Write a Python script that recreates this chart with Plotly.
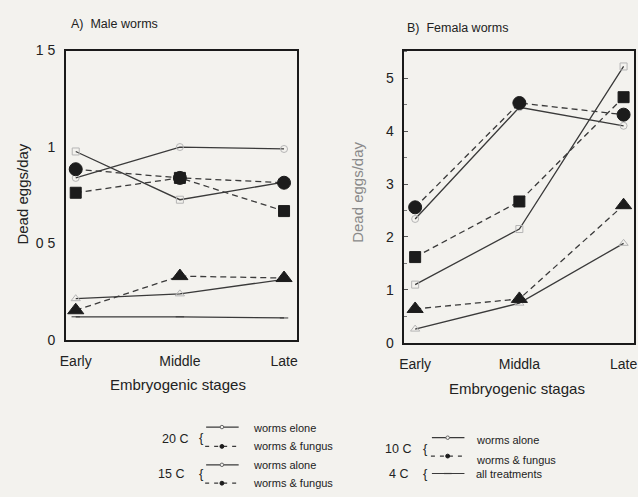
import plotly.graph_objects as go

# ---------------- data ----------------
stages_a = ["Early", "Middle", "Late"]
stages_b = ["Early", "Middla", "Late"]
xpos = [0, 1, 2]

# Panel A: male worms
male_20_alone = [0.84, 1.00, 0.99]
male_20_fungus = [0.885, 0.84, 0.815]
male_15_alone = [0.977, 0.727, 0.818]
male_15_fungus = [0.763, 0.84, 0.668]
male_10_alone = [0.214, 0.239, 0.314]
male_10_fungus = [0.154, 0.331, 0.321]
male_4_all = [0.12, 0.12, 0.114]

# Panel B: female worms
fem_20_alone = [2.34, 4.45, 4.10]
fem_20_fungus = [2.56, 4.53, 4.31]
fem_15_alone = [1.10, 2.15, 5.22]
fem_15_fungus = [1.62, 2.67, 4.64]
fem_10_alone = [0.26, 0.75, 1.88]
fem_10_fungus = [0.64, 0.83, 2.60]

a_ytickvals = [0, 0.5, 1, 1.5]
a_yticktext = ["0", "0 5", "1", "1 5"]
b_ytickvals = [0, 1, 2, 3, 4, 5]

W, H = 638, 497
BG = "#f3f2ee"
LINE = "#3a3a3a"
INK = "#1c1c1c"
OPEN = "#b5b5b5"
FONT = "Liberation Sans, Arial, Helvetica, sans-serif"


def px(x):
    return x / W


def py(y):
    return 1 - y / H


fig = go.Figure()


def add(vals, xa, ya, dash, symbol, mcolor, msize, lw=1.3):
    fig.add_trace(go.Scatter(
        x=xpos, y=vals, xaxis=xa, yaxis=ya, mode="lines+markers",
        line=dict(color=LINE, width=lw, dash=dash),
        marker=dict(symbol=symbol, color=mcolor, size=msize,
                    line=dict(color=mcolor, width=1)),
        showlegend=False, hoverinfo="skip"))


DASH = "6px,4px"
# Panel A
add(male_20_alone, "x", "y", "solid", "circle-open", OPEN, 7)
add(male_15_alone, "x", "y", "solid", "square-open", OPEN, 7)
add(male_10_alone, "x", "y", "solid", "triangle-up-open", OPEN, 8)
add(male_4_all, "x", "y", "solid", "line-ew", LINE, 6)
add(male_20_fungus, "x", "y", DASH, "circle", INK, 13)
add(male_15_fungus, "x", "y", DASH, "square", INK, 11)
add(male_10_fungus, "x", "y", DASH, "triangle-up", INK, 14)
# Panel B
add(fem_20_alone, "x2", "y2", "solid", "circle-open", OPEN, 7)
add(fem_15_alone, "x2", "y2", "solid", "square-open", OPEN, 7)
add(fem_10_alone, "x2", "y2", "solid", "triangle-up-open", OPEN, 8)
add(fem_20_fungus, "x2", "y2", DASH, "circle", INK, 13)
add(fem_15_fungus, "x2", "y2", DASH, "square", INK, 11)
add(fem_10_fungus, "x2", "y2", DASH, "triangle-up", INK, 14)

axis_common = dict(showline=True, mirror=True, linecolor="#1a1a1a", linewidth=1.6,
                   showgrid=False, zeroline=False, fixedrange=True,
                   tickfont=dict(family=FONT, size=14, color="#222"))

fig.update_layout(
    width=W, height=H, margin=dict(l=0, r=0, t=0, b=0),
    paper_bgcolor=BG, plot_bgcolor=BG,
    font=dict(family=FONT, size=12, color="#222"),
    xaxis=dict(domain=[px(60.7), px(294.7)], range=[-0.095, 2.12],
               tickvals=xpos, ticktext=stages_a, ticks="", anchor="y",
               ticklabelstandoff=7, **axis_common),
    yaxis=dict(domain=[py(343), py(44)], range=[0, 1.5],
               tickvals=a_ytickvals, ticktext=a_yticktext, ticks="", anchor="x",
               ticklabelstandoff=6, **axis_common),
    xaxis2=dict(domain=[px(404), px(637)], range=[-0.104, 2.10],
                tickvals=xpos, ticktext=stages_b, ticks="", anchor="y2",
                ticklabelstandoff=8, ticklabeloverflow="allow", **axis_common),
    yaxis2=dict(domain=[py(346), py(44)], range=[0, 5.52],
                tickvals=b_ytickvals, ticks="inside", ticklen=4, tickcolor="#555",
                minor=dict(dtick=0.5, ticks="inside", ticklen=3, tickcolor="#777"),
                anchor="x2", ticklabelstandoff=6, **axis_common),
)

ann = []


def text(x, y, s, size=12, color="#222", xanchor="center", angle=0):
    ann.append(dict(x=px(x), y=py(y), xref="paper", yref="paper", text=s,
                    showarrow=False, xanchor=xanchor, yanchor="middle",
                    textangle=angle, font=dict(family=FONT, size=size, color=color)))


# titles and axis labels
text(64, 17, "A)  Male worms", 12.5, xanchor="left")
text(405, 21, "B)  Femala worms", 12.5, xanchor="left")
text(17, 192, "Dead eggs/day", 15, angle=-90)
text(357, 190, "Dead eggs/day", 15, color="#8a8a8a", angle=-90)
text(174, 389, "Embryogenic stages", 15)
text(518, 393, "Embryogenic stagas", 15)

# legend texts
text(187, 445, "20 C", 12.5, xanchor="right")
text(198, 444, "{", 13)
text(248, 434, "worms elone", 11, xanchor="left")
text(248, 453, "worms &amp; fungus", 11, xanchor="left")
text(183, 482, "15 C", 12.5, xanchor="right")
text(198, 481, "{", 13)
text(248, 472, "worms alone", 11, xanchor="left")
text(248, 491, "worms &amp; fungus", 11, xanchor="left")
text(413, 456, "10 C", 12.5, xanchor="right")
text(426, 455, "{", 13)
text(475, 446, "worms alone", 11, xanchor="left")
text(475, 467, "worms &amp; fungus", 11, xanchor="left")
text(410, 482, "4 C", 12.5, xanchor="right")
text(426, 481, "{", 13)
text(475, 481, "all treatments", 11, xanchor="left")

shapes = []


def hline(x0, x1, y, dash="solid"):
    shapes.append(dict(type="line", xref="paper", yref="paper",
                       x0=px(x0), x1=px(x1), y0=py(y), y1=py(y),
                       line=dict(color=LINE, width=1.2, dash=dash)))


def dot(x, y, r, fill, edge):
    shapes.append(dict(type="circle", xref="paper", yref="paper",
                       x0=px(x - r), x1=px(x + r), y0=py(y - r), y1=py(y + r),
                       fillcolor=fill, line=dict(color=edge, width=1)))


# 20 C
hline(203, 236, 433)
dot(219, 433, 1.8, BG, "#666")
hline(202, 236, 453, "4px,5px")
dot(219, 453, 2.0, INK, INK)
# 15 C
hline(203, 236, 472)
dot(219, 472, 1.8, BG, "#666")
hline(202, 236, 491, "4px,5px")
dot(219, 491, 2.0, INK, INK)
# 10 C
hline(432, 465, 444)
dot(448, 444, 1.8, BG, "#666")
hline(431, 465, 463, "4px,5px")
dot(448, 463, 2.0, INK, INK)
# 4 C
hline(432, 465, 481)
hline(444, 452, 481)

fig.update_layout(annotations=ann, shapes=shapes)
fig.write_html("out.html", config={"responsive": False, "displayModeBar": False},
               post_script="document.body.style.margin='0';"
                           "document.body.style.overflow='hidden';")
